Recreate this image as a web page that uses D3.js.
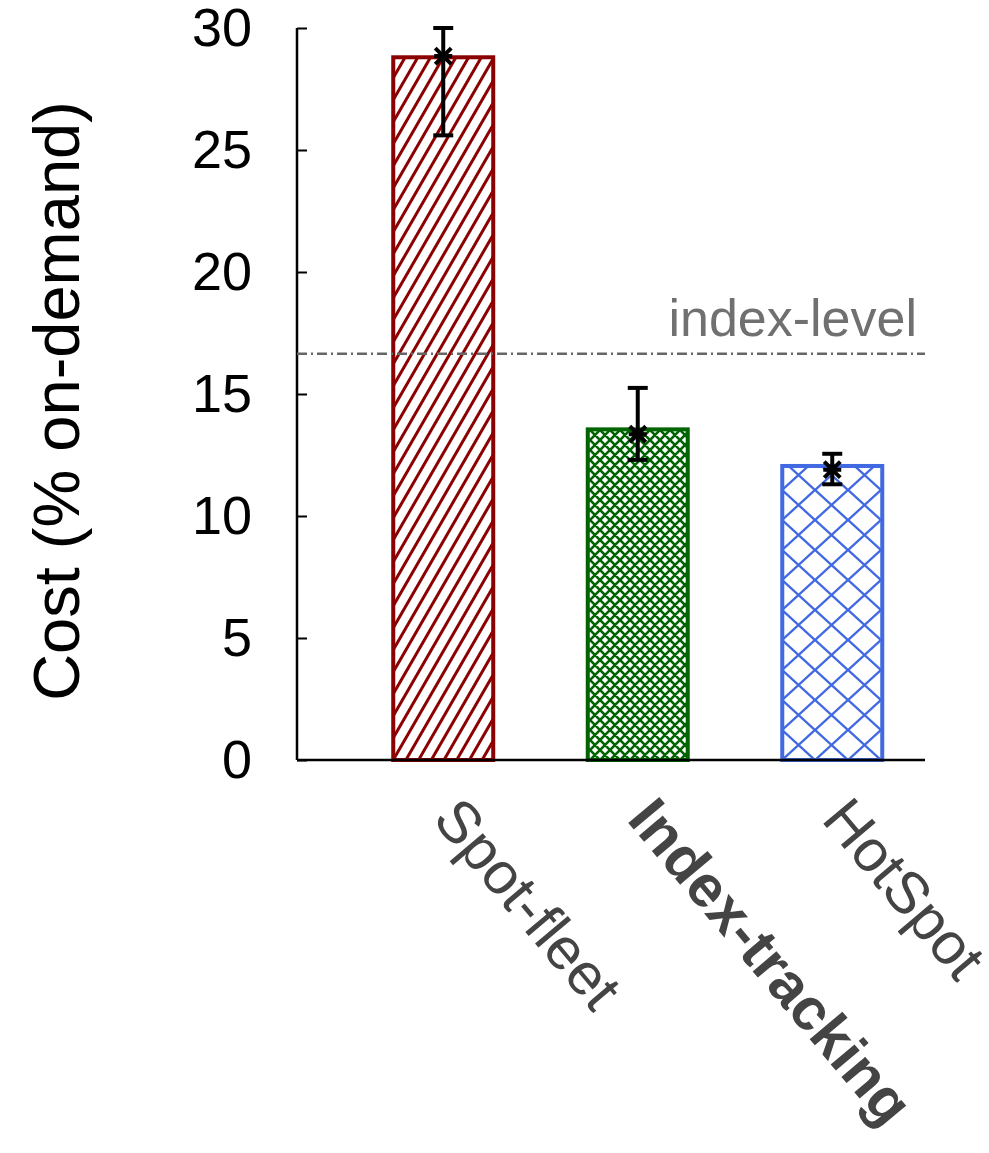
<!DOCTYPE html>
<html>
<head>
<meta charset="utf-8">
<script src="https://cdn.jsdelivr.net/npm/d3@7"></script>
<style>
  body { margin: 0; background: #fff; }
  text { font-family: "Liberation Sans", Arial, sans-serif; }
</style>
</head>
<body>
<script>
var width = 989;
var height = 1153;

var categories = ["Spot-fleet", "Index-tracking", "HotSpot"];
var costs = [28.8, 13.55, 12.05];
var means = [28.85, 13.35, 11.9];
var errLow = [25.6, 12.3, 11.3];
var errHigh = [30.0, 15.25, 12.55];
var colors = ["#8b0000", "#006400", "#4169e1"];
var yTicks = [0, 5, 10, 15, 20, 25, 30];
var indexLevel = 16.65;

var svg = d3.select("body").append("svg")
    .attr("width", width).attr("height", height);

var defs = svg.append("defs");

// red: steep "/" hatch
var p0 = defs.append("pattern").attr("id", "pat0")
    .attr("patternUnits", "userSpaceOnUse")
    .attr("width", 11).attr("height", 20)
    .attr("patternTransform", "rotate(30)");
p0.append("rect").attr("width", 11).attr("height", 20).attr("fill", "#fff");
p0.append("line").attr("x1", 5.5).attr("y1", 0).attr("x2", 5.5).attr("y2", 20)
    .attr("stroke", colors[0]).attr("stroke-width", 3);

// green: dense crosshatch
var p1 = defs.append("pattern").attr("id", "pat1")
    .attr("patternUnits", "userSpaceOnUse")
    .attr("width", 10).attr("height", 10);
p1.append("rect").attr("width", 10).attr("height", 10).attr("fill", "#fff");
p1.append("path").attr("d", "M0,0L10,10M10,0L0,10M-5,5L5,-5M5,15L15,5M-5,5L5,15M5,-5L15,5")
    .attr("stroke", colors[1]).attr("stroke-width", 2.6);

// blue: wide crosshatch
var p2 = defs.append("pattern").attr("id", "pat2")
    .attr("patternUnits", "userSpaceOnUse")
    .attr("width", 33).attr("height", 30).attr("x", 782).attr("y", 760);
p2.append("rect").attr("width", 33).attr("height", 30).attr("fill", "#fff");
p2.append("path").attr("d", "M0,0L33,30M33,0L0,30")
    .attr("stroke", colors[2]).attr("stroke-width", 2.4);

var x = d3.scaleBand().domain(categories)
    .range([296, 979.5]).paddingInner(0.486).paddingOuter(0.5);
var y = d3.scaleLinear().domain([0, 30]).range([760, 28]);

// y axis with inward ticks
var yAxis = svg.append("g").attr("transform", "translate(297,0)")
    .call(d3.axisLeft(y).tickValues(yTicks).tickSize(-10).tickPadding(45));
yAxis.select(".domain").attr("stroke", "#000").attr("stroke-width", 2.5)
    .attr("d", "M0," + y(30) + "V" + y(0));
yAxis.selectAll(".tick line").attr("stroke", "#000").attr("stroke-width", 2);
yAxis.selectAll(".tick text")
    .attr("font-size", "54px").attr("fill", "#000")
    .attr("font-family", "Liberation Sans, Arial, sans-serif");

// bars
svg.selectAll("rect.bar").data(categories).enter().append("rect")
    .attr("class", "bar")
    .attr("x", function (d) { return x(d); })
    .attr("y", function (d, i) { return y(costs[i]); })
    .attr("width", x.bandwidth())
    .attr("height", function (d, i) { return y(0) - y(costs[i]); })
    .attr("fill", function (d, i) { return "url(#pat" + i + ")"; })
    .attr("stroke", function (d, i) { return colors[i]; })
    .attr("stroke-width", 4);

// x axis line
svg.append("line").attr("x1", 297).attr("x2", 925)
    .attr("y1", y(0)).attr("y2", y(0))
    .attr("stroke", "#000").attr("stroke-width", 2.5);

// index-level line
svg.append("line").attr("x1", 297).attr("x2", 925)
    .attr("y1", y(indexLevel)).attr("y2", y(indexLevel))
    .attr("stroke", "#666").attr("stroke-width", 2.5)
    .attr("stroke-dasharray", "10,4,2,4");
svg.append("text").attr("x", 917).attr("y", y(indexLevel) - 18)
    .attr("text-anchor", "end").attr("font-size", "52px").attr("fill", "#707070")
    .text("index-level");

// error bars
var eb = svg.selectAll("g.err").data(categories).enter().append("g")
    .attr("class", "err")
    .attr("transform", function (d) { return "translate(" + (x(d) + x.bandwidth() / 2) + ",0)"; });
eb.append("line").attr("x1", 0).attr("x2", 0)
    .attr("y1", function (d, i) { return y(errLow[i]); })
    .attr("y2", function (d, i) { return y(errHigh[i]); })
    .attr("stroke", "#000").attr("stroke-width", 4);
eb.append("line").attr("x1", -10).attr("x2", 10)
    .attr("y1", function (d, i) { return y(errLow[i]); })
    .attr("y2", function (d, i) { return y(errLow[i]); })
    .attr("stroke", "#000").attr("stroke-width", 4);
eb.append("line").attr("x1", -10).attr("x2", 10)
    .attr("y1", function (d, i) { return y(errHigh[i]); })
    .attr("y2", function (d, i) { return y(errHigh[i]); })
    .attr("stroke", "#000").attr("stroke-width", 4);
eb.append("path")
    .attr("transform", function (d, i) { return "translate(0," + y(means[i]) + ")"; })
    .attr("d", "M-8,-8L8,8M8,-8L-8,8M-9,0L9,0")
    .attr("stroke", "#000").attr("stroke-width", 4);

// category labels
svg.selectAll("text.cat").data(categories).enter().append("text")
    .attr("class", "cat")
    .attr("transform", function (d) {
        return "translate(" + (x(d) + x.bandwidth() / 2 - 12) + ",820) rotate(50)";
    })
    .attr("font-size", "59px")
    .attr("font-weight", function (d, i) { return i === 1 ? "bold" : "normal"; })
    .attr("fill", "#444")
    .text(function (d) { return d; });

// y label
svg.append("text")
    .attr("transform", "translate(79,401) rotate(-90)")
    .attr("text-anchor", "middle").attr("font-size", "65px").attr("fill", "#000")
    .text("Cost (% on-demand)");
</script>
</body>
</html>
